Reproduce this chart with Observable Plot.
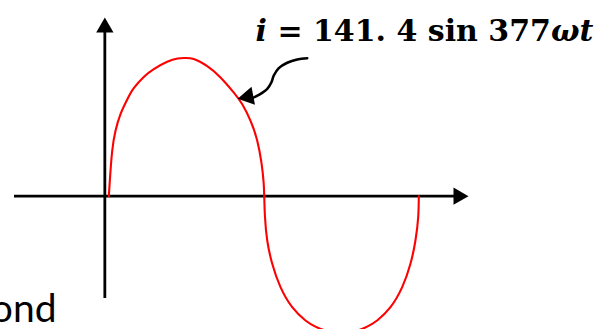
<!DOCTYPE html>
<html><head><meta charset="utf-8">
<script src="https://cdn.jsdelivr.net/npm/d3@7"></script>
<script src="https://cdn.jsdelivr.net/npm/@observablehq/plot@0.6"></script>
<style>
body{margin:0;background:#fff;}
#chart svg{display:block;overflow:hidden;background:#fff;}
</style>
</head><body><div id="chart"></div>
<script>
// Sine wave of current: phase angle ωt (degrees) and current i (A)
const waveAngle = [0, 1.2, 3.9, 7.8, 13.6, 21.4, 29.0, 40.6, 52.3, 67.8, 80, 88, 98.7, 114.3, 129.7, 145.2, 155, 164.6, 172.3, 177.3, 179.8, 180.5,
  181.4, 184, 189.8, 199.4, 213, 228.4, 240, 251.7, 270, 288.5, 300, 311.6, 327.1, 340.7, 350.3, 356.1, 359.3, 360];
const waveCurrent = [0, 16, 46, 67, 84, 99, 110.5, 122, 130, 137.5, 140.8, 141.4, 140.3, 133, 121.5, 106, 94, 77, 57, 34, 14, 0,
  -21.5, -45.3, -69.2, -93.1, -113.6, -127.2, -133.5, -137.5, -140, -137.5, -133.5, -127.2, -113.6, -93.1, -69.2, -45.3, -21.5, 0];

// Axes extents (data units)
const xAxisSpan = [-109.5, 402];
const xAxisTip = [406.1];
const yAxisAt = [-4.6];
const yAxisSpan = [-104.7, 168];
const yAxisTip = [172.6];

// Curved leader from the equation to the wave
const leaderAngle = [230.4, 218.8, 207.2, 197.4, 191.6, 188.9, 184.0, 174.2, 166.5];
const leaderCurrent = [141.2, 139.9, 136.5, 131.0, 123.5, 116.6, 109.9, 103.7, 100.3];
const leaderHead = [{a: 161.7, i: 101.7}];

// Labels
const equationParts = [{s: "i", italic: true}, {s: " = 141. 4 sin 377", italic: false}, {s: "ωt", italic: true}];
const equationText = equationParts.map(d => d.s).join("");
const equationAt = [{a: 170.4, i: 159.3}];
const unitText = "ond";
const unitAt = [{a: -60.7, i: -128.9}];

const wave = waveAngle.map((a, k) => ({a, i: waveCurrent[k]}));
const leader = leaderAngle.map((a, k) => ({a, i: leaderCurrent[k]}));

const svg = Plot.plot({
  width: 616,
  height: 329,
  margin: 0,
  style: {background: "#fff", overflow: "hidden"},
  x: {domain: [0, 360], range: [108.3, 418.3], axis: null},
  y: {domain: [0, 141.4], range: [195.7, 57.5], axis: null},
  marks: [
    Plot.ruleY([0], {x1: xAxisSpan[0], x2: xAxisSpan[1], stroke: "#000", strokeWidth: 2.8}),
    Plot.ruleX(yAxisAt, {y1: yAxisSpan[0], y2: yAxisSpan[1], stroke: "#000", strokeWidth: 2.8}),
    Plot.dot(xAxisTip, {x: d => d, y: 0, symbol: "triangle", r: 6.43, fill: "#000", stroke: null, rotate: 90}),
    Plot.dot(yAxisTip, {x: yAxisAt[0], y: d => d, symbol: "triangle", r: 6.43, fill: "#000", stroke: null}),
    Plot.line(wave, {x: "a", y: "i", stroke: "#ff0000", strokeWidth: 2.1, curve: "natural"}),
    Plot.line(leader, {x: "a", y: "i", stroke: "#000", strokeWidth: 2.6, curve: "catmull-rom"}),
    Plot.dot(leaderHead, {x: "a", y: "i", symbol: "triangle", r: 6.8, fill: "#000", stroke: null, rotate: 259}),
    Plot.text(equationAt, {x: "a", y: "i", text: () => equationText, textAnchor: "start", lineAnchor: "bottom",
      fontFamily: "DejaVu Serif", fontWeight: "bold", fontSize: 30, fill: "#000"}),
    Plot.text(unitAt, {x: "a", y: "i", text: () => unitText, textAnchor: "end", lineAnchor: "bottom",
      fontFamily: "Lato", fontSize: 39, fill: "#000"})
  ]
});

// style italic parts of the equation
d3.select(svg).selectAll("text").filter(function() { return this.textContent === equationText; })
  .each(function() {
    const t = d3.select(this);
    t.text(null);
    equationParts.forEach(p => {
      t.append("tspan").attr("font-style", p.italic ? "italic" : "normal").text(p.s);
    });
  });

document.getElementById("chart").append(svg);
</script>
</body></html>
